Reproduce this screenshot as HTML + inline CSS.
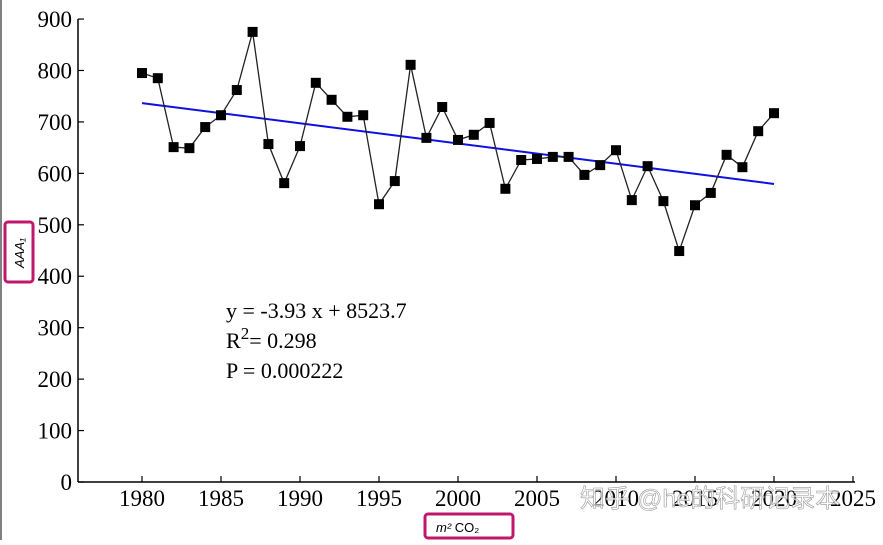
<!DOCTYPE html>
<html><head><meta charset="utf-8"><style>
body{margin:0;background:#fff;}
svg text{font-family:"Liberation Serif",serif;}
</style></head><body>
<svg id="c" width="883" height="540" xmlns="http://www.w3.org/2000/svg"></svg>
<script>
const years=[1980,1981,1982,1983,1984,1985,1986,1987,1988,1989,1990,1991,1992,1993,1994,1995,1996,1997,1998,1999,2000,2001,2002,2003,2004,2005,2006,2007,2008,2009,2010,2011,2012,2013,2014,2015,2016,2017,2018,2019,2020];
const values=[795,785,651,649,690,713,762,875,657,581,653,776,743,710,713,540,585,811,669,729,665,675,698,570,626,628,632,632,597,616,645,548,614,546,449,538,562,636,612,682,717];
const yTicks=[0,100,200,300,400,500,600,700,800,900];
const xTicks=[1980,1985,1990,1995,2000,2005,2010,2015,2020,2025];
const slope=-3.93, intercept=8518;
const svg=document.getElementById('c');
const NS='http://www.w3.org/2000/svg';
const X=v=>142+(v-1980)*15.8;
const Y=v=>482-v*0.5144;
function mk(t,a){const e=document.createElementNS(NS,t);for(const k in a)e.setAttribute(k,a[k]);svg.appendChild(e);return e;}
let e;
e=mk('line',{x1:78,y1:19,x2:78,y2:482,stroke:'#000','stroke-width':1.5});


e=mk('line',{x1:78,y1:482,x2:855,y2:482,stroke:'#000','stroke-width':1.5});


e=mk('line',{x1:1,y1:0,x2:1,y2:540,stroke:'#000','stroke-width':1});


yTicks.forEach(v=>{
 e=mk('line',{x1:78,y1:Y(v),x2:84,y2:Y(v),stroke:'#000','stroke-width':1.2});
 
 
 e=mk('text',{x:72,y:Y(v)+8,'text-anchor':'end','font-size':23,fill:'#000'});
 e.textContent=v;
 
 
});
xTicks.forEach(v=>{
 e=mk('line',{x1:X(v),y1:482,x2:X(v),y2:476,stroke:'#000','stroke-width':1.2});
 
 
 e=mk('text',{x:X(v),y:506,'text-anchor':'middle','font-size':23,fill:'#000'});
 e.textContent=v;
 
 
});
e=mk('line',{x1:X(1980),y1:Y(slope*1980+intercept),x2:X(2020),y2:Y(slope*2020+intercept),stroke:'#1010e0','stroke-width':2});


e=mk('polyline',{points:years.map((y,i)=>X(y)+','+Y(values[i])).join(' '),fill:'none',stroke:'#222','stroke-width':1.3});


years.forEach((y,i)=>{
 e=mk('rect',{x:X(y)-5,y:Y(values[i])-5,width:10,height:10,fill:'#000'});
 
 
});
const eq=[['y = -3.93 x + 8523.7',318],['R<tspan dy="-9" font-size="17">2</tspan><tspan dy="9">= 0.298</tspan>',348],['P = 0.000222',378]];
eq.forEach(t=>{
 e=mk('text',{x:226,y:t[1],'font-size':22,fill:'#000'});
 e.innerHTML=t[0];
 
 
});
e=mk('rect',{x:5,y:222,width:28,height:60,rx:3,fill:'none',stroke:'#c0166e','stroke-width':3});


e=mk('text',{x:0,y:0,'font-size':13,fill:'#000',transform:'translate(24,268) rotate(-90)',style:'font-family:Liberation Sans,sans-serif;font-style:italic'});
e.textContent='AAA₁';


e=mk('rect',{x:425,y:514,width:88,height:24,rx:3,fill:'none',stroke:'#c0166e','stroke-width':3});


e=mk('text',{x:436,y:532,'font-size':13,fill:'#000',style:'font-family:Liberation Sans,sans-serif'});
e.innerHTML='<tspan font-style="italic">m²</tspan>  CO₂';


e=mk('text',{x:580,y:507,'font-size':25,fill:'#fff','fill-opacity':0.75,stroke:'#999','stroke-width':0.6,style:'font-family:Liberation Sans,Noto Sans CJK SC,sans-serif'});
e.textContent='知乎 @he的科研记录本';


</script>
</body></html>
